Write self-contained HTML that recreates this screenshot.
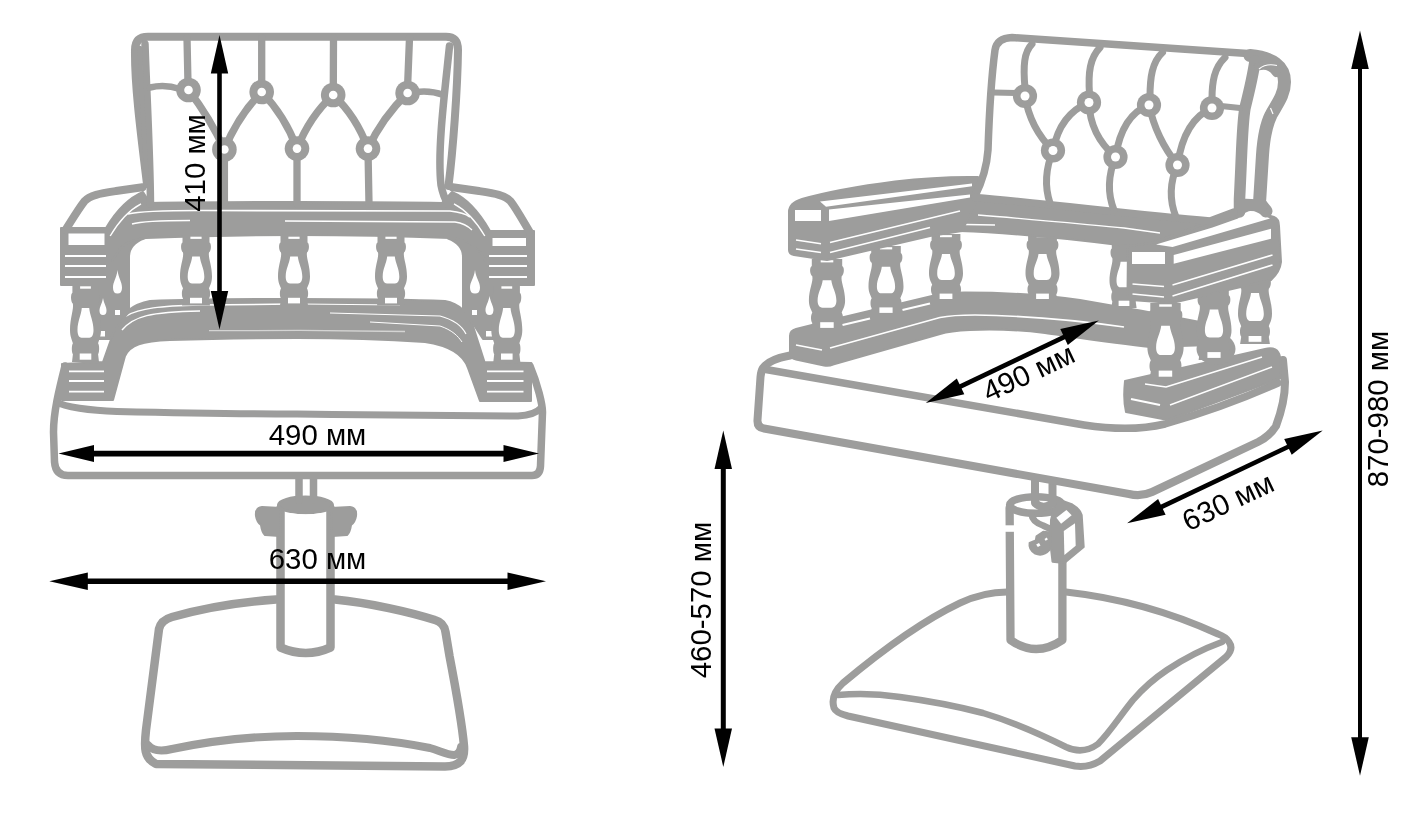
<!DOCTYPE html>
<html lang="ru"><head><meta charset="utf-8"><title>Размеры кресла</title>
<style>
html,body{margin:0;padding:0;background:#fff;}
body{width:1418px;height:828px;overflow:hidden;font-family:"Liberation Sans",sans-serif;}
svg{display:block;}
svg text{font-family:"Liberation Sans",sans-serif;}
</style></head><body>
<svg width="1418" height="828" viewBox="0 0 1418 828" fill="none" stroke="#9d9d9c" stroke-linecap="round" stroke-linejoin="round">
<g id="left-chair">
<path d="M276,599.5 C240,602 200,609 172,617 Q161,620 159,629 L146,730 C144,748 144,758 156,764 L445,766.5 C460,766 465,760 464,746 C462,722 456,690 449.5,656 L445.5,632 Q444,622.5 435,620 C410,612 370,603 335,599.5" stroke-width="8.5" />
<path d="M148,745 C152,750 160,752 172,749 C210,741 250,736 297,736 C345,736 395,741 430,748 C440,751 448,755 454,755 Q460,754 461,747" stroke-width="8" />
<path d="M280.5,508 L280.5,647.5 Q306,658.5 330.5,647.5 L330.5,508" stroke-width="8.5" />
<ellipse cx="305.5" cy="505" rx="27" ry="8" fill="#9d9d9c" stroke="#9d9d9c" stroke-width="3"/>
<path d="M281,508 L262,507 Q255,508 256,516 Q257,522 261,525 Q262,532 265,535 L280,536 Z" fill="#9d9d9c" stroke="#9d9d9c" stroke-width="2" />
<path d="M331,508 L350,507 Q357,508 356,516 Q355,522 351,525 Q350,532 347,535 L332,536 Z" fill="#9d9d9c" stroke="#9d9d9c" stroke-width="2" />
<path d="M285,516 Q285,512.5 290,513 Q306,515.5 321,513 Q326,512.5 326,516 L326,540 L285,540 Z" fill="#fff" stroke="none" />
<path d="M299,479 L299,500" stroke-width="7.5" />
<path d="M313.5,479 L313.5,500" stroke-width="7.5" />
<path d="M65,366 C59,390 53.5,412 53.5,432 L54.5,462 Q55.5,475.5 68,475.5 L532,475.5 Q540,475.5 540.5,466 L542.5,412 C542.5,405 538,385 530,366" stroke-width="7.5" />
<path d="M57,402 C64,407 90,410.5 117,411.5 C160,412.5 250,414 297,414 C380,415 470,416 518,416 Q535,415 541,408" stroke-width="7" />
<path d="M150,301 C200,299 250,299 297,299 C350,299 400,299 445,301 C460,304 467,312 473,326 L484.5,362 L531,363 L531,401 L480,401 L468,368 C464,356 452,346 425,342 C380,339 340,338 297,338 C250,338 200,339 170,340 C142,341 130,345 125,356 L113,400 L62,400 L62,364 L103,362 L115,328 C122,312 134,304 150,301 Z" fill="#9d9d9c" stroke="#9d9d9c" stroke-width="2" />
<path d="M126,316 C140,308 160,306 200,305 L292,304" stroke="#fff" stroke-width="1.5" fill="none" stroke-linecap="butt"/>
<path d="M300,304 L400,305" stroke="#fff" stroke-width="1.2" fill="none" stroke-linecap="butt"/>
<path d="M122,330 C134,316 150,312 200,311" stroke="#fff" stroke-width="1.5" fill="none" stroke-linecap="butt"/>
<path d="M330,313 L440,316 C455,320 462,326 466,334" stroke="#fff" stroke-width="1.2" fill="none" stroke-linecap="butt"/>
<path d="M370,322 L440,326 C452,330 458,336 462,342" stroke="#fff" stroke-width="1.0" fill="none" stroke-linecap="butt"/>
<path d="M209,330.7 L300,330.4 L405,331.5" stroke="#d4d4d3" stroke-width="1.3" fill="none" stroke-linecap="butt"/>
<path d="M69,371.4 L104,371.4" stroke="#fff" stroke-width="1.8" fill="none" stroke-linecap="butt"/>
<path d="M69,381 L104,381" stroke="#fff" stroke-width="1.8" fill="none" stroke-linecap="butt"/>
<path d="M69,391.6 L104,391.6" stroke="#fff" stroke-width="1.8" fill="none" stroke-linecap="butt"/>
<path d="M487,371.4 L523.5,371.4" stroke="#fff" stroke-width="1.8" fill="none" stroke-linecap="butt"/>
<path d="M487,381 L523.5,381" stroke="#fff" stroke-width="1.8" fill="none" stroke-linecap="butt"/>
<path d="M487,391.6 L523.5,391.6" stroke="#fff" stroke-width="1.8" fill="none" stroke-linecap="butt"/>
<path d="M463,257 Q463,244 448,238.5 L499,240 L499,339 L483,339 L472,322 L463,312 Z" fill="#9d9d9c" stroke="#9d9d9c" stroke-width="2" />
<path d="M475.0,270 C476.0,278.225 480,281.75 480,287.625 Q480,293.5 475.0,293.5 Q470,293.5 470,287.625 C470,281.75 474.0,278.225 475.0,270 Z" fill="#fff" stroke="none" />
<path d="M472,310 L477,310 L477,315 L472,315 Z" fill="#fff" stroke="none" />
<path d="M489.5,296 C490.5,302.65 493.5,305.5 493.5,310.25 Q493.5,315 489.5,315 Q485.5,315 485.5,310.25 C485.5,305.5 488.5,302.65 489.5,296 Z" fill="#fff" stroke="none" />
<path d="M486,331 L492,331 L492,336.5 L486,336.5 Z" fill="#fff" stroke="none" />
<path d="M129,257 Q129,244 144,238.5 L96,240 L96,339 L110,339 L120,322 L129,312 Z" fill="#9d9d9c" stroke="#9d9d9c" stroke-width="2" />
<path d="M117.5,270 C118.5,278.225 122,281.75 122,287.625 Q122,293.5 117.5,293.5 Q113,293.5 113,287.625 C113,281.75 116.5,278.225 117.5,270 Z" fill="#fff" stroke="none" />
<path d="M115,310 L120,310 L120,315 L115,315 Z" fill="#fff" stroke="none" />
<path d="M103.0,298 C104.0,303.95 106.5,306.5 106.5,310.75 Q106.5,315 103.0,315 Q99.5,315 99.5,310.75 C99.5,306.5 102.0,303.95 103.0,298 Z" fill="#fff" stroke="none" />
<path d="M100,331 L105,331 L105,336.5 L100,336.5 Z" fill="#fff" stroke="none" />
<g>
<path d="M72.4,285.0 L98.6,285.0 L98.6,292.7 C100.5,293.8 100.5,301.5 98.1,303.7 C97.1,309.2 101.0,318.0 101.0,330.1 C101.0,336.7 99.0,340.0 98.1,343.3 C99.5,345.5 99.5,352.1 98.1,354.3 L99.0,362.0 L72.0,362.0 L72.9,354.3 C71.5,352.1 71.5,345.5 72.9,343.3 C72.0,340.0 70.0,336.7 70.0,330.1 C70.0,318.0 73.9,309.2 72.9,303.7 C70.5,301.5 70.5,293.8 72.4,292.7 Z" fill="#9d9d9c" stroke="none"/>
<rect x="80.1" y="286.3" width="10.8" height="2.4" fill="#fff" stroke="none"/>
<path d="M81.8,308.1 L89.2,308.1 C89.9,315.8 93.5,321.3 93.5,330.1 C93.5,334.5 92.3,337.8 89.4,337.8 L81.6,337.8 C78.7,337.8 77.5,334.5 77.5,330.1 C77.5,321.3 81.1,315.8 81.8,308.1 Z" fill="#fff" stroke="none"/>
<rect x="79.7" y="353.5" width="11.6" height="6.2" fill="#fff" stroke="none"/>
</g>
<g>
<path d="M493.7,285.0 L519.9,285.0 L519.9,292.7 C521.8,293.8 521.8,301.5 519.4,303.7 C518.4,309.2 522.3,318.0 522.3,330.1 C522.3,336.7 520.3,340.0 519.4,343.3 C520.8,345.5 520.8,352.1 519.4,354.3 L520.3,362.0 L493.3,362.0 L494.2,354.3 C492.8,352.1 492.8,345.5 494.2,343.3 C493.3,340.0 491.3,336.7 491.3,330.1 C491.3,318.0 495.2,309.2 494.2,303.7 C491.8,301.5 491.8,293.8 493.7,292.7 Z" fill="#9d9d9c" stroke="none"/>
<rect x="501.4" y="286.3" width="10.8" height="2.4" fill="#fff" stroke="none"/>
<path d="M503.1,308.1 L510.5,308.1 C511.2,315.8 514.8,321.3 514.8,330.1 C514.8,334.5 513.6,337.8 510.7,337.8 L502.9,337.8 C500.0,337.8 498.8,334.5 498.8,330.1 C498.8,321.3 502.4,315.8 503.1,308.1 Z" fill="#fff" stroke="none"/>
<rect x="501.0" y="353.5" width="11.6" height="6.2" fill="#fff" stroke="none"/>
</g>
<path d="M150,203 C200,202 250,202 297,202 C350,202 400,202 442,203 L452,192 C464,197 478,210 490,231 L534,231 L534,285 L486,285 L486,262 C480,248 470,240 450,238 C400,236 350,235 297,235 C250,235 200,236 146,238 C126,240 118,248 112,262 L112,285 L61,285 L61,228 L106,228 C118,208 131,197 143,192 L150,203 Z" fill="#9d9d9c" stroke="#9d9d9c" stroke-width="2" />
<path d="M128,214 C140,211 160,210.5 200,210.5 L450,211 C460,212 466,214 470,217" stroke="#fff" stroke-width="1.6" fill="none" stroke-linecap="butt"/>
<path d="M132,224 C142,221 160,220.5 190,220.5" stroke="#fff" stroke-width="1.4" fill="none" stroke-linecap="butt"/>
<path d="M285,221 L455,222 C462,223 468,226 472,230" stroke="#fff" stroke-width="1.3" fill="none" stroke-linecap="butt"/>
<path d="M454,203.8 Q471.4,213 484.8,236" stroke="#fff" stroke-width="1.4" fill="none" stroke-linecap="butt"/>
<path d="M141,203.8 Q123.6,213 110.2,236" stroke="#fff" stroke-width="1.4" fill="none" stroke-linecap="butt"/>
<path d="M68.5,233.5 L104.5,233.5 L104.5,245 L68.5,245 Z" fill="#fff" stroke="none" />
<path d="M492.5,238 L526,238 L526,246 L492.5,246 Z" fill="#fff" stroke="none" />
<path d="M65,256 L106,256" stroke="#fff" stroke-width="1.8" fill="none" stroke-linecap="butt"/>
<path d="M65,266 L106,266" stroke="#fff" stroke-width="1.8" fill="none" stroke-linecap="butt"/>
<path d="M65,277 L106,277" stroke="#fff" stroke-width="1.8" fill="none" stroke-linecap="butt"/>
<path d="M489,256 L527,256" stroke="#fff" stroke-width="1.8" fill="none" stroke-linecap="butt"/>
<path d="M489,266 L527,266" stroke="#fff" stroke-width="1.8" fill="none" stroke-linecap="butt"/>
<path d="M489,277 L527,277" stroke="#fff" stroke-width="1.8" fill="none" stroke-linecap="butt"/>
<path d="M452.6,187.3 L479,191 C495,193.5 505,195 510.7,201.4 C516,208 522,219 530.3,233" stroke-width="8" />
<path d="M142.4,187.3 L116,191 C100,193.5 90,195 84.3,201.4 C79,208 73,218 65.5,230" stroke-width="8" />
<g>
<path d="M182.5,235.5 L209.5,235.5 L209.5,242.5 C211.5,243.5 211.5,250.5 209.0,252.5 C208.0,257.5 212.0,265.5 212.0,276.5 C212.0,282.5 210.0,285.5 209.0,288.5 C210.5,290.5 210.5,296.5 209.0,298.5 L210.0,305.5 L182.0,305.5 L183.0,298.5 C181.5,296.5 181.5,290.5 183.0,288.5 C182.0,285.5 180.0,282.5 180.0,276.5 C180.0,265.5 184.0,257.5 183.0,252.5 C180.5,250.5 180.5,243.5 182.5,242.5 Z" fill="#9d9d9c" stroke="none"/>
<rect x="190.4" y="236.7" width="11.2" height="2.2" fill="#fff" stroke="none"/>
<path d="M192.2,256.5 L199.8,256.5 C200.5,263.5 204.3,268.5 204.3,276.5 C204.3,280.5 203.0,283.5 200.0,283.5 L192.0,283.5 C189.0,283.5 187.7,280.5 187.7,276.5 C187.7,268.5 191.5,263.5 192.2,256.5 Z" fill="#fff" stroke="none"/>
<rect x="190.0" y="297.8" width="12.0" height="5.6" fill="#fff" stroke="none"/>
</g>
<g>
<path d="M280.5,235.5 L307.5,235.5 L307.5,242.5 C309.5,243.5 309.5,250.5 307.0,252.5 C306.0,257.5 310.0,265.5 310.0,276.5 C310.0,282.5 308.0,285.5 307.0,288.5 C308.5,290.5 308.5,296.5 307.0,298.5 L308.0,305.5 L280.0,305.5 L281.0,298.5 C279.5,296.5 279.5,290.5 281.0,288.5 C280.0,285.5 278.0,282.5 278.0,276.5 C278.0,265.5 282.0,257.5 281.0,252.5 C278.5,250.5 278.5,243.5 280.5,242.5 Z" fill="#9d9d9c" stroke="none"/>
<rect x="288.4" y="236.7" width="11.2" height="2.2" fill="#fff" stroke="none"/>
<path d="M290.2,256.5 L297.8,256.5 C298.5,263.5 302.3,268.5 302.3,276.5 C302.3,280.5 301.0,283.5 298.0,283.5 L290.0,283.5 C287.0,283.5 285.7,280.5 285.7,276.5 C285.7,268.5 289.5,263.5 290.2,256.5 Z" fill="#fff" stroke="none"/>
<rect x="288.0" y="297.8" width="12.0" height="5.6" fill="#fff" stroke="none"/>
</g>
<g>
<path d="M377.5,235.5 L404.5,235.5 L404.5,242.5 C406.5,243.5 406.5,250.5 404.0,252.5 C403.0,257.5 407.0,265.5 407.0,276.5 C407.0,282.5 405.0,285.5 404.0,288.5 C405.5,290.5 405.5,296.5 404.0,298.5 L405.0,305.5 L377.0,305.5 L378.0,298.5 C376.5,296.5 376.5,290.5 378.0,288.5 C377.0,285.5 375.0,282.5 375.0,276.5 C375.0,265.5 379.0,257.5 378.0,252.5 C375.5,250.5 375.5,243.5 377.5,242.5 Z" fill="#9d9d9c" stroke="none"/>
<rect x="385.4" y="236.7" width="11.2" height="2.2" fill="#fff" stroke="none"/>
<path d="M387.2,256.5 L394.8,256.5 C395.5,263.5 399.3,268.5 399.3,276.5 C399.3,280.5 398.0,283.5 395.0,283.5 L387.0,283.5 C384.0,283.5 382.7,280.5 382.7,276.5 C382.7,268.5 386.5,263.5 387.2,256.5 Z" fill="#fff" stroke="none"/>
<rect x="385.0" y="297.8" width="12.0" height="5.6" fill="#fff" stroke="none"/>
</g>
<path d="M147,184 C141,135 134.5,85 135,50 Q135,36.7 148,36.7 L446,36.7 Q458,36.7 458,50 C457.5,90 453,150 448.5,186" stroke-width="8" />
<path d="M145,44 C146.5,90 150,150 150.5,204" stroke-width="7.5" />
<path d="M449.5,46 C445,90 437,150 441,185 Q443,196 448,204" stroke-width="7.5" />
<path d="M140,48 C141,90 145,150 147,182" stroke-width="4.5" />
<path d="M187,38 L188,84" stroke-width="7.3" />
<path d="M261.7,38 L261.7,86" stroke-width="7.3" />
<path d="M333.5,38 L333.3,88" stroke-width="7.3" />
<path d="M409.5,38 L407.6,86" stroke-width="7.3" />
<path d="M150,87.5 Q165,84 180,89" stroke-width="6.5" />
<path d="M416,92 Q430,90 443.5,95" stroke-width="6.5" />
<path d="M188.5,90 Q210,118 224.4,149.5" stroke-width="7.5" />
<path d="M261.7,92 Q238,116 224.4,149.5" stroke-width="7.5" />
<path d="M261.7,92 Q285,116 297,148.6" stroke-width="7.5" />
<path d="M333.2,95 Q310,116 297,148.6" stroke-width="7.5" />
<path d="M333.2,95 Q356,116 368,148.6" stroke-width="7.5" />
<path d="M407.6,93 Q382,118 368,148.6" stroke-width="7.5" />
<path d="M224.4,150 L224.4,204" stroke-width="7.3" />
<path d="M297,150 L297,204" stroke-width="7.3" />
<path d="M368,150 L369,204" stroke-width="7.3" />
<circle cx="188.5" cy="90" r="12.3" fill="#9d9d9c" stroke="none"/>
<circle cx="188.5" cy="90" r="4.3" fill="#fff" stroke="none"/>
<circle cx="261.7" cy="92" r="12.3" fill="#9d9d9c" stroke="none"/>
<circle cx="261.7" cy="92" r="4.3" fill="#fff" stroke="none"/>
<circle cx="333.2" cy="95" r="12.3" fill="#9d9d9c" stroke="none"/>
<circle cx="333.2" cy="95" r="4.3" fill="#fff" stroke="none"/>
<circle cx="407.6" cy="93" r="12.3" fill="#9d9d9c" stroke="none"/>
<circle cx="407.6" cy="93" r="4.3" fill="#fff" stroke="none"/>
<circle cx="224.4" cy="149.5" r="12.3" fill="#9d9d9c" stroke="none"/>
<circle cx="224.4" cy="149.5" r="4.3" fill="#fff" stroke="none"/>
<circle cx="297" cy="148.6" r="12.3" fill="#9d9d9c" stroke="none"/>
<circle cx="297" cy="148.6" r="4.3" fill="#fff" stroke="none"/>
<circle cx="368" cy="148.6" r="12.3" fill="#9d9d9c" stroke="none"/>
<circle cx="368" cy="148.6" r="4.3" fill="#fff" stroke="none"/>
</g>
<g id="right-chair">
<path d="M1007,592 C990,592 975,596 960,603 C920,622 880,652 843,683 Q830,695 834,708 Q836,713 848,716 L1075,766 Q1088,768 1100,761 L1226,657 Q1234,649 1229,642 Q1226,637 1218,634 C1170,612 1120,598 1066,592" stroke-width="7" />
<path d="M838,695 C860,693 880,694 900,697 C930,701 960,707 983,713 C1010,721 1040,734 1066,747 Q1083,755 1098,744 C1110,732 1120,716 1133,700 C1145,686 1155,678 1167,670 C1185,658 1200,650 1222,642" stroke-width="6.5" />
<path d="M1009.6,508 L1010.5,640 Q1036,658 1062.4,640 L1062.4,545" stroke-width="8.3" />
<ellipse cx="1036" cy="505" rx="26.4" ry="8.3" stroke-width="7.5"/>
<path d="M1004,525.3 L1015,525.3 L1015,531.8 L1004,531.8 Z" fill="#fff" stroke="none" />
<path d="M1031.5,514 C1032,520 1036,523 1043,525.5 L1052.5,530" stroke-width="6.5" />
<path d="M1043.2,531.8 L1036.5,536.4 L1035.8,540.4 L1029.6,543 Q1028.5,549.7 1035.2,553.7 Q1043.2,557 1049.8,549.7 L1051.1,532.5 Z" fill="#9d9d9c" stroke="#9d9d9c" stroke-width="2" />
<path d="M1036.2,544.5 L1039,543 L1040.5,545.5 L1037.8,547 Z" fill="#fff" stroke="none" />
<path d="M1044.5,539 L1046.8,537.6 L1047.8,539.4 L1045.6,540.8 Z" fill="#fff" stroke="none" />
<path d="M1056.4,498.6 L1072.4,504.5 Q1080,509 1081.7,515 L1083.7,547 L1064.4,563 L1052.5,561.7 L1050.5,544.4 L1051,520 Z" fill="#9d9d9c" stroke="#9d9d9c" stroke-width="2" />
<path d="M1056.4,517.8 L1066.4,509.9 L1071.7,515.2 L1061.1,523.8 Z" fill="#fff" stroke="none" />
<path d="M1063.8,531.1 L1075,523.2 L1075.7,545.7 L1064.4,555 Z" fill="#fff" stroke="none" />
<path d="M1035,480 L1035,503 Q1043.7,511 1052.5,503 L1052.5,484" stroke-width="8" />
<path d="M790,355.5 C777,358 767,362 763,368 Q761,371 760.5,377 L757.5,420 Q757,427.5 764,428.5 L1129,494 Q1141,497 1152,492 L1258,442 Q1270,436 1276,426 C1282,410 1285,395 1285,382 L1283,360" stroke-width="8" />
<path d="M763,369 L1084,425 C1110,429 1140,430 1165,424 C1200,414 1240,400 1278,383" stroke-width="7.5" />
<path d="M790,336 Q790,330.5 796,329 L842,317.5 L932,296 C945,293 955,292.5 965,292.5 C1000,292.5 1040,294 1080,300 C1110,305 1150,312 1200,322 L1210,345 L1150,347 C1120,344 1080,338 1045,333 C1020,330 990,329 970,330 C960,330.5 950,331 940,334 L833,364.5 Q829,366.5 824,365.5 L796,359.5 Q790,358.5 790,353 Z" fill="#9d9d9c" stroke="#9d9d9c" stroke-width="2" />
<path d="M830,348 L940,317.5 C950,315.5 960,315 975,315 C1010,315.5 1060,318 1124,327" stroke="#fff" stroke-width="1.6" fill="none" stroke-linecap="butt"/>
<path d="M796,345 L822,350" stroke="#fff" stroke-width="1.6" fill="none" stroke-linecap="butt"/>
<path d="M842.5,325 L870,318.5" stroke="#fff" stroke-width="2.2" fill="none" stroke-linecap="butt"/>
<path d="M902.5,310 L930,303.5" stroke="#fff" stroke-width="2.2" fill="none" stroke-linecap="butt"/>
<path d="M1125,381 L1265,349 Q1278,346 1280,357 L1281,378 L1168,420 L1126,412 Q1123,400 1125,381 Z" fill="#9d9d9c" stroke="#9d9d9c" stroke-width="2" />
<ellipse cx="1216" cy="349" rx="19.5" ry="16" fill="#9d9d9c" stroke="none"/>
<path d="M1131,399 L1160,405" stroke="#fff" stroke-width="2.2" fill="none" stroke-linecap="butt"/>
<path d="M1170,405 L1272,367" stroke="#fff" stroke-width="1.4" fill="none" stroke-linecap="butt"/>
<path d="M1145,384 L1166,387 L1262,357" stroke="#fff" stroke-width="1.4" fill="none" stroke-linecap="butt"/>
<g>
<path d="M931.6,234.0 L960.4,234.0 L960.4,240.7 C962.5,241.7 962.5,248.4 959.8,250.3 C958.8,255.1 963.0,262.7 963.0,273.2 C963.0,279.0 960.9,281.9 959.8,284.7 C961.4,286.6 961.4,292.4 959.8,294.3 L960.9,301.0 L931.1,301.0 L932.2,294.3 C930.6,292.4 930.6,286.6 932.2,284.7 C931.1,281.9 929.0,279.0 929.0,273.2 C929.0,262.7 933.2,255.1 932.2,250.3 C929.5,248.4 929.5,241.7 931.6,240.7 Z" fill="#9d9d9c" stroke="none"/>
<rect x="940.0" y="235.1" width="11.9" height="2.1" fill="#fff" stroke="none"/>
<path d="M942.0,254.1 L950.0,254.1 C950.8,260.8 954.8,265.6 954.8,273.2 C954.8,277.1 953.5,279.9 950.3,279.9 L941.7,279.9 C938.5,279.9 937.2,277.1 937.2,273.2 C937.2,265.6 941.2,260.8 942.0,254.1 Z" fill="#fff" stroke="none"/>
<rect x="939.6" y="293.6" width="12.8" height="5.4" fill="#fff" stroke="none"/>
</g>
<g>
<path d="M1028.1,234.0 L1056.9,234.0 L1056.9,240.7 C1059.0,241.7 1059.0,248.4 1056.3,250.3 C1055.3,255.1 1059.5,262.7 1059.5,273.2 C1059.5,279.0 1057.4,281.9 1056.3,284.7 C1057.9,286.6 1057.9,292.4 1056.3,294.3 L1057.4,301.0 L1027.6,301.0 L1028.7,294.3 C1027.1,292.4 1027.1,286.6 1028.7,284.7 C1027.6,281.9 1025.5,279.0 1025.5,273.2 C1025.5,262.7 1029.7,255.1 1028.7,250.3 C1026.0,248.4 1026.0,241.7 1028.1,240.7 Z" fill="#9d9d9c" stroke="none"/>
<rect x="1036.5" y="235.1" width="11.9" height="2.1" fill="#fff" stroke="none"/>
<path d="M1038.5,254.1 L1046.5,254.1 C1047.3,260.8 1051.3,265.6 1051.3,273.2 C1051.3,277.1 1050.0,279.9 1046.8,279.9 L1038.2,279.9 C1035.0,279.9 1033.7,277.1 1033.7,273.2 C1033.7,265.6 1037.7,260.8 1038.5,254.1 Z" fill="#fff" stroke="none"/>
<rect x="1036.1" y="293.6" width="12.8" height="5.4" fill="#fff" stroke="none"/>
</g>
<g>
<path d="M1111.8,242.0 L1136.2,242.0 L1136.2,248.6 C1138.0,249.5 1138.0,256.1 1135.7,258.0 C1134.8,262.7 1138.5,270.3 1138.5,280.7 C1138.5,286.3 1136.6,289.1 1135.7,292.0 C1137.1,293.9 1137.1,299.5 1135.7,301.4 L1136.6,308.0 L1111.4,308.0 L1112.3,301.4 C1110.9,299.5 1110.9,293.9 1112.3,292.0 C1111.4,289.1 1109.5,286.3 1109.5,280.7 C1109.5,270.3 1113.2,262.7 1112.3,258.0 C1110.0,256.1 1110.0,249.5 1111.8,248.6 Z" fill="#9d9d9c" stroke="none"/>
<rect x="1118.9" y="243.1" width="10.1" height="2.1" fill="#fff" stroke="none"/>
<path d="M1120.6,261.8 L1127.4,261.8 C1128.1,268.4 1131.5,273.1 1131.5,280.7 C1131.5,284.4 1130.3,287.3 1127.6,287.3 L1120.4,287.3 C1117.7,287.3 1116.5,284.4 1116.5,280.7 C1116.5,273.1 1119.9,268.4 1120.6,261.8 Z" fill="#fff" stroke="none"/>
<rect x="1118.6" y="300.7" width="10.8" height="5.3" fill="#fff" stroke="none"/>
</g>
<g>
<path d="M871.2,246.0 L900.8,246.0 L900.8,252.9 C903.0,253.9 903.0,260.8 900.3,262.8 C899.2,267.7 903.5,275.6 903.5,286.4 C903.5,292.3 901.4,295.3 900.3,298.2 C901.9,300.2 901.9,306.1 900.3,308.1 L901.4,315.0 L870.6,315.0 L871.7,308.1 C870.1,306.1 870.1,300.2 871.7,298.2 C870.6,295.3 868.5,292.3 868.5,286.4 C868.5,275.6 872.8,267.7 871.7,262.8 C869.0,260.8 869.0,253.9 871.2,252.9 Z" fill="#9d9d9c" stroke="none"/>
<rect x="879.9" y="247.2" width="12.3" height="2.2" fill="#fff" stroke="none"/>
<path d="M881.8,266.7 L890.2,266.7 C890.9,273.6 895.1,278.5 895.1,286.4 C895.1,290.4 893.7,293.3 890.4,293.3 L881.6,293.3 C878.3,293.3 876.9,290.4 876.9,286.4 C876.9,278.5 881.1,273.6 881.8,266.7 Z" fill="#fff" stroke="none"/>
<rect x="879.4" y="307.4" width="13.2" height="5.5" fill="#fff" stroke="none"/>
</g>
<g>
<path d="M811.8,259.0 L842.2,259.0 L842.2,266.1 C844.5,267.1 844.5,274.2 841.7,276.2 C840.5,281.3 845.1,289.4 845.1,300.6 C845.1,306.7 842.8,309.7 841.7,312.8 C843.4,314.8 843.4,320.9 841.7,322.9 L842.8,330.0 L811.2,330.0 L812.3,322.9 C810.6,320.9 810.6,314.8 812.3,312.8 C811.2,309.7 808.9,306.7 808.9,300.6 C808.9,289.4 813.5,281.3 812.3,276.2 C809.5,274.2 809.5,267.1 811.8,266.1 Z" fill="#9d9d9c" stroke="none"/>
<rect x="820.7" y="260.2" width="12.6" height="2.2" fill="#fff" stroke="none"/>
<path d="M822.7,280.3 L831.3,280.3 C832.1,287.4 836.4,292.5 836.4,300.6 C836.4,304.6 834.9,307.7 831.5,307.7 L822.5,307.7 C819.1,307.7 817.6,304.6 817.6,300.6 C817.6,292.5 821.9,287.4 822.7,280.3 Z" fill="#fff" stroke="none"/>
<rect x="820.2" y="322.2" width="13.5" height="5.7" fill="#fff" stroke="none"/>
</g>
<g>
<path d="M1240.6,271.0 L1269.4,271.0 L1269.4,278.3 C1271.5,279.3 1271.5,286.6 1268.8,288.7 C1267.8,293.9 1272.0,302.3 1272.0,313.8 C1272.0,320.0 1269.9,323.1 1268.8,326.3 C1270.4,328.4 1270.4,334.6 1268.8,336.7 L1269.9,344.0 L1240.1,344.0 L1241.2,336.7 C1239.6,334.6 1239.6,328.4 1241.2,326.3 C1240.1,323.1 1238.0,320.0 1238.0,313.8 C1238.0,302.3 1242.2,293.9 1241.2,288.7 C1238.5,286.6 1238.5,279.3 1240.6,278.3 Z" fill="#9d9d9c" stroke="none"/>
<rect x="1249.0" y="272.3" width="11.9" height="2.3" fill="#fff" stroke="none"/>
<path d="M1251.0,292.9 L1259.0,292.9 C1259.8,300.2 1263.8,305.4 1263.8,313.8 C1263.8,317.9 1262.5,321.1 1259.3,321.1 L1250.7,321.1 C1247.5,321.1 1246.2,317.9 1246.2,313.8 C1246.2,305.4 1250.2,300.2 1251.0,292.9 Z" fill="#fff" stroke="none"/>
<rect x="1248.6" y="336.0" width="12.8" height="5.8" fill="#fff" stroke="none"/>
</g>
<g>
<path d="M1199.2,288.0 L1228.8,288.0 L1228.8,295.2 C1231.0,296.2 1231.0,303.4 1228.3,305.5 C1227.2,310.6 1231.5,318.9 1231.5,330.2 C1231.5,336.3 1229.4,339.4 1228.3,342.5 C1229.9,344.6 1229.9,350.7 1228.3,352.8 L1229.4,360.0 L1198.6,360.0 L1199.7,352.8 C1198.1,350.7 1198.1,344.6 1199.7,342.5 C1198.6,339.4 1196.5,336.3 1196.5,330.2 C1196.5,318.9 1200.8,310.6 1199.7,305.5 C1197.0,303.4 1197.0,296.2 1199.2,295.2 Z" fill="#9d9d9c" stroke="none"/>
<rect x="1207.9" y="289.2" width="12.3" height="2.3" fill="#fff" stroke="none"/>
<path d="M1209.8,309.6 L1218.2,309.6 C1218.9,316.8 1223.1,321.9 1223.1,330.2 C1223.1,334.3 1221.7,337.4 1218.4,337.4 L1209.6,337.4 C1206.3,337.4 1204.9,334.3 1204.9,330.2 C1204.9,321.9 1209.1,316.8 1209.8,309.6 Z" fill="#fff" stroke="none"/>
<rect x="1207.4" y="352.1" width="13.2" height="5.8" fill="#fff" stroke="none"/>
</g>
<g>
<path d="M1150.3,303.0 L1180.7,303.0 L1180.7,310.6 C1183.0,311.7 1183.0,319.3 1180.2,321.5 C1179.0,326.9 1183.6,335.6 1183.6,347.5 C1183.6,354.0 1181.3,357.3 1180.2,360.5 C1181.9,362.7 1181.9,369.2 1180.2,371.4 L1181.3,379.0 L1149.7,379.0 L1150.8,371.4 C1149.1,369.2 1149.1,362.7 1150.8,360.5 C1149.7,357.3 1147.4,354.0 1147.4,347.5 C1147.4,335.6 1152.0,326.9 1150.8,321.5 C1148.0,319.3 1148.0,311.7 1150.3,310.6 Z" fill="#9d9d9c" stroke="none"/>
<rect x="1159.2" y="304.3" width="12.6" height="2.4" fill="#fff" stroke="none"/>
<path d="M1161.2,325.8 L1169.8,325.8 C1170.6,333.4 1174.9,338.8 1174.9,347.5 C1174.9,351.9 1173.4,355.1 1170.0,355.1 L1161.0,355.1 C1157.6,355.1 1156.1,351.9 1156.1,347.5 C1156.1,338.8 1160.4,333.4 1161.2,325.8 Z" fill="#fff" stroke="none"/>
<rect x="1158.7" y="370.6" width="13.5" height="6.1" fill="#fff" stroke="none"/>
</g>
<path d="M960,196 C1000,198 1060,204 1124,212 C1160,218 1190,222 1212,222 L1236,213 L1240,240 L1160,250 L1127,246 C1080,240 1020,233 960,231 Z" fill="#9d9d9c" stroke="#9d9d9c" stroke-width="2" />
<path d="M978,215 C1030,219 1080,224 1124,228 L1160,233" stroke="#fff" stroke-width="1.3" fill="none" stroke-linecap="butt"/>
<path d="M965,224.5 L995,225" stroke="#fff" stroke-width="1.3" fill="none" stroke-linecap="butt"/>
<path d="M789,212 L789,250 Q789,254 794,255 L827,260 L930,236 L962,231 L978,198 L978,177 C950,176.5 920,178.5 895,181.5 C860,186 825,192.5 802,199 Q789,203 789,212 Z" fill="#9d9d9c" stroke="#9d9d9c" stroke-width="2" />
<path d="M795,210 L821,210 L821,221 L795,221 Z" fill="#fff" stroke="none" />
<path d="M820,201.5 L972,183.6 L972,186.2 L826,206.8 Z" fill="#fff" stroke="none" />
<path d="M829,209.5 L970,194.5 L970,197.5 L829,221 Z" fill="#fff" stroke="none" />
<path d="M830,242.5 L960,211" stroke="#fff" stroke-width="1.5" fill="none" stroke-linecap="butt"/>
<path d="M830,252.5 L930,227.5" stroke="#fff" stroke-width="1.5" fill="none" stroke-linecap="butt"/>
<path d="M796,240 L821,243.7" stroke="#fff" stroke-width="1.5" fill="none" stroke-linecap="butt"/>
<path d="M796,249 L821,252.5" stroke="#fff" stroke-width="1.5" fill="none" stroke-linecap="butt"/>
<path d="M1128,246 L1152,243 L1212,221 L1235,211 Q1245,207 1252,210 L1274,217 Q1279,219 1279,226 L1281,262 Q1280,272 1271,280 L1172,303 L1131,300 Q1127.5,299 1127.5,294 Z" fill="#9d9d9c" stroke="#9d9d9c" stroke-width="2" />
<path d="M1156,244.5 L1212.5,227.5 L1238,218.5 Q1247,209.5 1254,211 L1270,218.5 L1172.5,247 Z" fill="#fff" stroke="none" />
<path d="M1132,252 L1165,252 L1165,264 L1132,264 Z" fill="#fff" stroke="none" />
<path d="M1173.7,255 L1271,228.7 L1271,238.7 L1173.7,263.7 Z" fill="#fff" stroke="none" />
<path d="M1172.5,285 L1272.5,255" stroke="#fff" stroke-width="1.5" fill="none" stroke-linecap="butt"/>
<path d="M1172.5,296 L1272.5,265" stroke="#fff" stroke-width="1.5" fill="none" stroke-linecap="butt"/>
<path d="M1132.5,284 L1164,286.5" stroke="#fff" stroke-width="1.5" fill="none" stroke-linecap="butt"/>
<path d="M1132.5,294 L1164,297" stroke="#fff" stroke-width="1.5" fill="none" stroke-linecap="butt"/>
<path d="M975,196 C982,182 987,165 988,150 C989,120 991,80 995,50 Q997,38 1012,37.5 L1255,54" stroke-width="7.5" />
<path d="M1250,55.5 C1272,57.5 1284.5,66 1284.5,82 C1284.5,95 1277,104 1271,115 C1266,125 1263.5,140 1262.5,155 L1259.5,203 L1266,211" stroke-width="13" />
<path d="M1255,61 C1253,75 1249,92 1245,108 C1242,125 1242,150 1239.5,199 L1239.5,212" stroke-width="11.5" />
<path d="M1240,204.5 L1262,205.5" stroke-width="12" />
<path d="M1258,66.5 C1265,64.5 1272,66.5 1276,73" stroke-width="8" />
<path d="M1259,69 Q1266,63 1277,65.5" stroke="#fff" stroke-width="1.2" fill="none" stroke-linecap="butt"/>
<path d="M1270.5,108 L1273,114" stroke="#fff" stroke-width="1.2" fill="none" stroke-linecap="butt"/>
<path d="M975,197.5 C1050,204 1130,214 1210,221 L1234,212" stroke-width="7.5" />
<path d="M1032,44 C1024,52 1023,66 1025,88" stroke-width="7" />
<path d="M1100,47.5 C1090,58 1088,72 1089.5,94" stroke-width="7" />
<path d="M1162.5,52.5 C1152,62 1150,78 1150,97" stroke-width="7" />
<path d="M1225,57.5 C1214,68 1212,82 1212,99" stroke-width="7" />
<path d="M993,92.5 L1016,93" stroke-width="6" />
<path d="M1221,106 L1240,108" stroke-width="6" />
<path d="M1025,96 Q1030,128 1053,150.5" stroke-width="7" />
<path d="M1089,102.5 Q1060,114 1053,150.5" stroke-width="7" />
<path d="M1089,102.5 Q1090,135 1115.5,157" stroke-width="7" />
<path d="M1149,105 Q1122,115 1115.5,157" stroke-width="7" />
<path d="M1149,105 Q1156,138 1177.5,165" stroke-width="7" />
<path d="M1212,108 Q1184,120 1177.5,165" stroke-width="7" />
<path d="M1053,150.5 C1045,170 1045,188 1050,203" stroke-width="7" />
<path d="M1115.5,157 C1107,178 1108,195 1114,210" stroke-width="7" />
<path d="M1177.5,165 C1169,184 1170,202 1176,217" stroke-width="7" />
<circle cx="1025" cy="96" r="12.1" fill="#9d9d9c" stroke="none"/>
<circle cx="1025" cy="96" r="4.5" fill="#fff" stroke="none"/>
<circle cx="1089" cy="102.5" r="12.1" fill="#9d9d9c" stroke="none"/>
<circle cx="1089" cy="102.5" r="4.5" fill="#fff" stroke="none"/>
<circle cx="1149" cy="105" r="12.1" fill="#9d9d9c" stroke="none"/>
<circle cx="1149" cy="105" r="4.5" fill="#fff" stroke="none"/>
<circle cx="1212" cy="108" r="12.1" fill="#9d9d9c" stroke="none"/>
<circle cx="1212" cy="108" r="4.5" fill="#fff" stroke="none"/>
<circle cx="1053" cy="150.5" r="12.1" fill="#9d9d9c" stroke="none"/>
<circle cx="1053" cy="150.5" r="4.5" fill="#fff" stroke="none"/>
<circle cx="1115.5" cy="157" r="12.1" fill="#9d9d9c" stroke="none"/>
<circle cx="1115.5" cy="157" r="4.5" fill="#fff" stroke="none"/>
<circle cx="1177.5" cy="165" r="12.1" fill="#9d9d9c" stroke="none"/>
<circle cx="1177.5" cy="165" r="4.5" fill="#fff" stroke="none"/>
</g>
<g id="dims" opacity="0.999">
<line x1="219.5" y1="72.5" x2="219.5" y2="292.0" stroke="#000" stroke-width="4.6" stroke-linecap="butt"/>
<polygon points="219.5,35.0 210.8,73.5 228.2,73.5" fill="#000" stroke="none"/>
<polygon points="219.5,329.5 210.8,291.0 228.2,291.0" fill="#000" stroke="none"/>
<text x="205" y="163" font-size="29.4" text-anchor="middle" fill="#000" stroke="none" transform="rotate(-90 205 163)">410 мм</text>
<line x1="93.0" y1="453.6" x2="504.5" y2="453.6" stroke="#000" stroke-width="5.6" stroke-linecap="butt"/>
<polygon points="58.5,453.6 94.0,462.1 94.0,445.1" fill="#000" stroke="none"/>
<polygon points="539.0,453.6 503.5,462.1 503.5,445.1" fill="#000" stroke="none"/>
<text x="317.5" y="445" font-size="29.4" text-anchor="middle" fill="#000" stroke="none">490 мм</text>
<line x1="86.8" y1="581.3" x2="508.5" y2="581.3" stroke="#000" stroke-width="5.6" stroke-linecap="butt"/>
<polygon points="49.3,581.3 87.8,590.0 87.8,572.5" fill="#000" stroke="none"/>
<polygon points="546.0,581.3 507.5,590.0 507.5,572.5" fill="#000" stroke="none"/>
<text x="317.5" y="569" font-size="29.4" text-anchor="middle" fill="#000" stroke="none">630 мм</text>
<line x1="723.3" y1="468.0" x2="723.3" y2="729.5" stroke="#000" stroke-width="5" stroke-linecap="butt"/>
<polygon points="723.3,430.5 714.5,469.0 732.0,469.0" fill="#000" stroke="none"/>
<polygon points="723.3,767.0 714.5,728.5 732.0,728.5" fill="#000" stroke="none"/>
<text x="710.5" y="600" font-size="29.4" text-anchor="middle" fill="#000" stroke="none" transform="rotate(-90 710.5 600)">460-570 мм</text>
<line x1="1360.0" y1="68.0" x2="1360.0" y2="738.3" stroke="#000" stroke-width="4" stroke-linecap="butt"/>
<polygon points="1360.0,30.5 1351.2,69.0 1368.8,69.0" fill="#000" stroke="none"/>
<polygon points="1360.0,775.8 1351.2,737.3 1368.8,737.3" fill="#000" stroke="none"/>
<text x="1388" y="409" font-size="29.4" text-anchor="middle" fill="#000" stroke="none" transform="rotate(-90 1388 409)">870-980 мм</text>
<line x1="959.6" y1="386.8" x2="1065.0" y2="336.6" stroke="#000" stroke-width="4.7" stroke-linecap="butt"/>
<polygon points="925.8,403.0 964.3,394.3 956.8,378.5" fill="#000" stroke="none"/>
<polygon points="1098.8,320.4 1067.8,344.9 1060.3,329.1" fill="#000" stroke="none"/>
<text x="1032.8" y="381.8" font-size="29.4" text-anchor="middle" fill="#000" stroke="none" transform="rotate(-25.2 1032.8 381.8)">490 мм</text>
<line x1="1288.8" y1="446.5" x2="1161.0" y2="507.2" stroke="#000" stroke-width="4.7" stroke-linecap="butt"/>
<polygon points="1322.7,430.4 1284.2,439.0 1291.7,454.8" fill="#000" stroke="none"/>
<polygon points="1127.1,523.3 1158.1,498.9 1165.6,514.7" fill="#000" stroke="none"/>
<text x="1232.3" y="510.7" font-size="29.4" text-anchor="middle" fill="#000" stroke="none" transform="rotate(-25.4 1232.3 510.7)">630 мм</text>
</g>
</svg>
</body></html>
